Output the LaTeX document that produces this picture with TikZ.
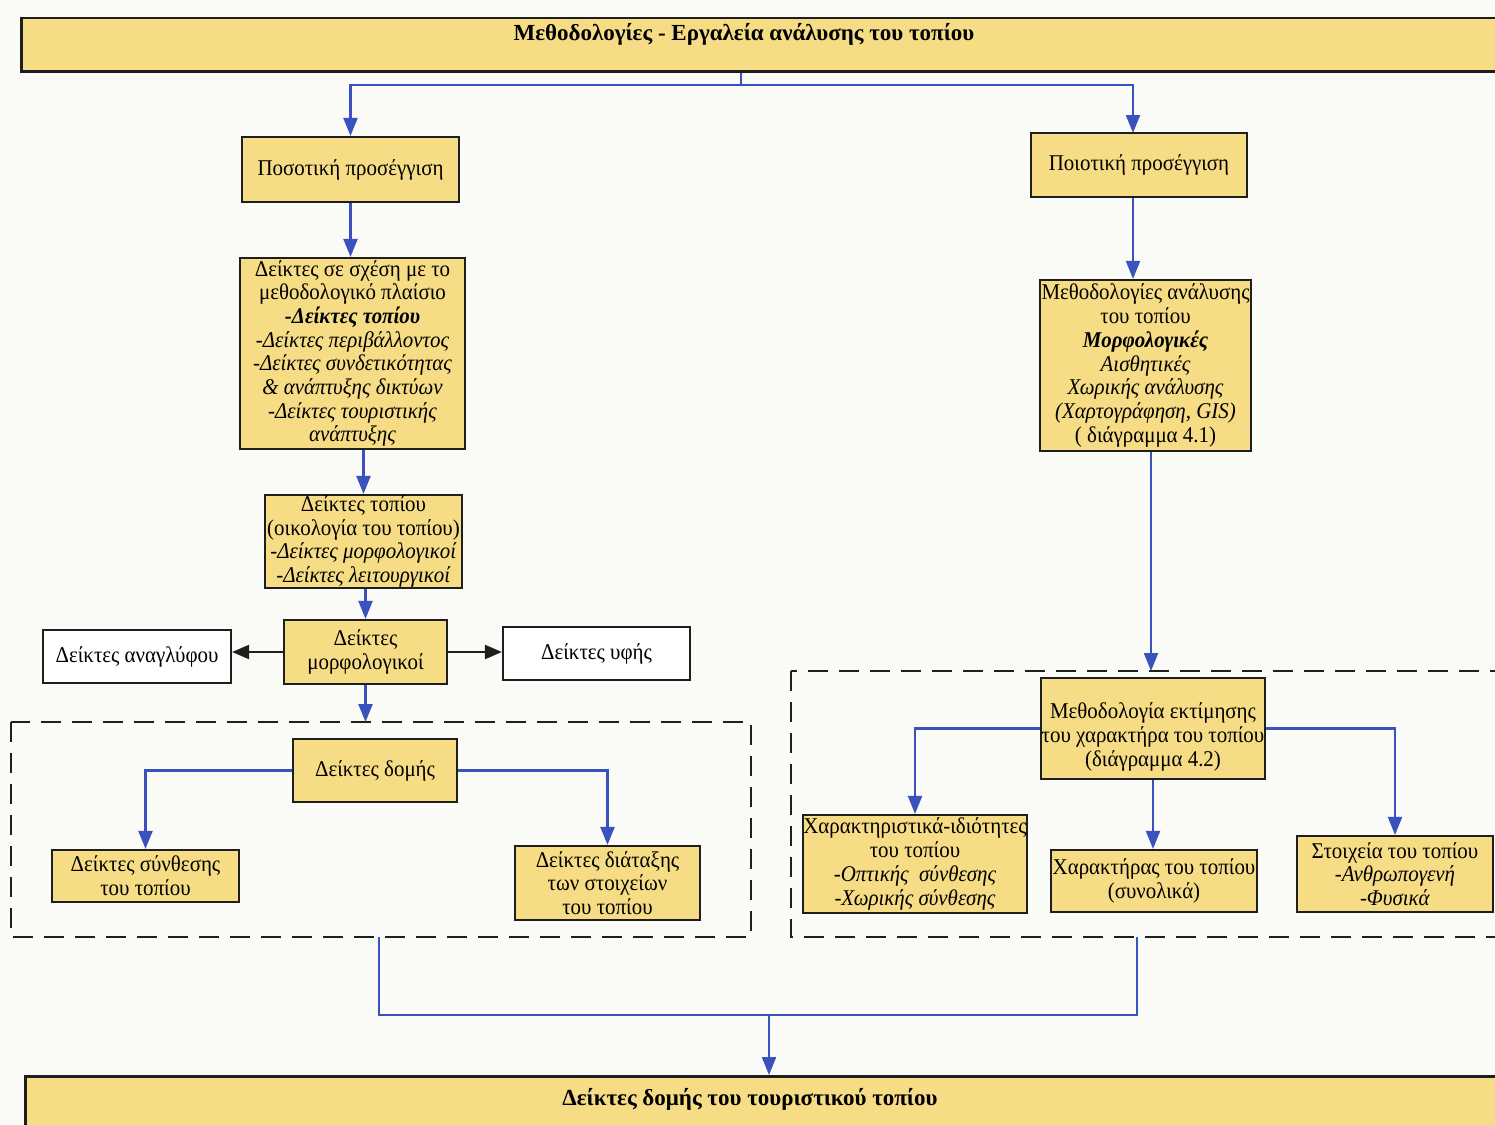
\documentclass[tikz,border=0pt]{standalone}
\usepackage{fontspec}
\setmainfont{Liberation Serif}[FakeStretch=0.93]
\newfontfamily\barfont{Liberation Serif}
\usetikzlibrary{arrows.meta}
\definecolor{boxyellow}{RGB}{246,220,132}
\definecolor{connblue}{RGB}{58,82,190}
\definecolor{bgpaper}{RGB}{250,250,246}
\definecolor{edge}{RGB}{30,30,30}
\tikzset{
  ybox/.style={draw=edge, line width=2.2pt, fill=boxyellow, inner sep=0pt, align=center,
    font=\fontsize{22.5}{23.7}\selectfont},
  wbox/.style={ybox, fill=white},
  bar/.style={draw=edge, line width=2.5pt, fill=boxyellow, inner sep=0pt},
  bartext/.style={font=\barfont\fontsize{23}{25}\selectfont\bfseries, inner sep=0pt},
  conn/.style={draw=connblue, line width=2.2pt},
  arr/.style={conn, -{Triangle[length=18pt,width=14pt]}},
  barr/.style={draw=edge, line width=2.2pt, -{Triangle[length=17pt,width=14pt]}},
  dashframe/.style={draw=edge, line width=2.5pt, dash pattern=on 20pt off 11pt},
}
\begin{document}
\begin{tikzpicture}[x=1pt,y=-1pt]
\useasboundingbox (0,0) rectangle (1495,1124);
\fill[bgpaper] (0,0) rectangle (1495,1124);

% title bar
\node[bar, anchor=north west, minimum width=1500pt, minimum height=53pt] (topbar) at (20,17) {};
\node[bartext] (toptext) at (744,34) {Μεθοδολογίες - Εργαλεία ανάλυσης του τοπίου};

% dashed frames
\coordinate (dL1) at (11,722);
\coordinate (dL2) at (751,937);
\coordinate (dR1) at (791,671);
\coordinate (dR2) at (1520,937);
\draw[dashframe] (dL1) rectangle (dL2);
\draw[dashframe] (dR1) rectangle (dR2);

% left branch
\node[ybox, minimum width=217pt, minimum height=65pt] (quant) at (350.5,169.5) {Ποσοτική προσέγγιση};
\node[ybox, minimum width=225pt, minimum height=191pt] (rel) at (352.5,353.5)
  {Δείκτες σε σχέση με το\\μεθοδολογικό πλαίσιο\\\textbf{\textit{-Δείκτες τοπίου}}\\\textit{-Δείκτες περιβάλλοντος}\\\textit{-Δείκτες συνδετικότητας}\\\textit{\& ανάπτυξης δικτύων}\\\textit{-Δείκτες τουριστικής}\\\textit{ανάπτυξης}};
\node[ybox, minimum width=197pt, minimum height=93pt] (land) at (363.5,541.5)
  {Δείκτες τοπίου\\(οικολογία του τοπίου)\\\textit{-Δείκτες μορφολογικοί}\\\textit{-Δείκτες λειτουργικοί}};
\node[ybox, minimum width=163pt, minimum height=64pt] (morph) at (365.5,652) {Δείκτες\\μορφολογικοί};
\node[wbox, minimum width=188pt, minimum height=53pt] (relief) at (137,656.5) {Δείκτες αναγλύφου};
\node[wbox, minimum width=187pt, minimum height=53pt] (texture) at (596.5,653.5) {Δείκτες υφής};
\node[ybox, minimum width=164pt, minimum height=63pt] (struct) at (375,770.5) {Δείκτες δομής};
\node[ybox, minimum width=187pt, minimum height=52pt] (synth) at (145.5,876) {Δείκτες σύνθεσης\\του τοπίου};
\node[ybox, minimum width=185pt, minimum height=74pt] (arrang) at (607.5,883) {Δείκτες διάταξης\\των στοιχείων\\του τοπίου};

% right branch
\node[ybox, minimum width=216pt, minimum height=64pt] (qual) at (1139,165) {Ποιοτική προσέγγιση};
\node[ybox, minimum width=211pt, minimum height=171pt] (methods) at (1145.5,365.5)
  {Μεθοδολογίες ανάλυσης\\του τοπίου\\\textbf{\textit{Μορφολογικές}}\\\textit{Αισθητικές}\\\textit{Χωρικής ανάλυσης}\\\textit{(Χαρτογράφηση, GIS)}\\( διάγραμμα 4.1)};
\node[ybox, minimum width=224pt, minimum height=101pt] (charmeth) at (1153,728.5)
  {\rule{0pt}{33pt}Μεθοδολογία εκτίμησης\\του χαρακτήρα του τοπίου\\(διάγραμμα 4.2)};
\node[ybox, minimum width=224pt, minimum height=98pt] (charact) at (915,864)
  {Χαρακτηριστικά-ιδιότητες\\του τοπίου\\\textit{-Οπτικής\ \ σύνθεσης}\\\textit{-Χωρικής σύνθεσης}};
\node[ybox, minimum width=206pt, minimum height=62pt] (character) at (1154,881) {Χαρακτήρας του τοπίου\\(συνολικά)};
\node[ybox, minimum width=196pt, minimum height=76pt] (elements) at (1395,874)
  {Στοιχεία του τοπίου\\\textit{-Ανθρωπογενή}\\\textit{-Φυσικά}};

% bottom bar
\node[bar, anchor=north west, minimum width=1500pt, minimum height=70pt] (botbar) at (24,1075) {};
\node[bartext] (bottext) at (750,1099) {Δείκτες δομής του τουριστικού τοπίου};

% connectors top
\coordinate (split1) at (741,85);
\coordinate (qualin) at (1133,133);
\draw[conn] (split1 |- topbar.south) -- (split1);
\draw[arr] (split1) -| (quant.north);
\draw[arr] (split1) -| (qualin);

% left chain
\draw[arr] (quant.south) -- (quant.south |- rel.north);
\draw[arr] (land.north |- rel.south) -- (land.north);
\draw[arr] (morph.north |- land.south) -- (morph.north);
\draw[barr] (morph.west) -- (morph.west -| relief.east);
\draw[barr] (morph.east) -- (morph.east -| texture.west);
\draw[arr] (morph.south) -- (morph.south |- dL1);
\draw[arr] (struct.west) -| (synth.north);
\draw[arr] (struct.east) -| (arrang.north);

% right chain
\draw[arr] (qualin |- qual.south) -- (qualin |- methods.north);
\coordinate (methout) at (1151,451);
\draw[arr] (methout |- methods.south) -- (methout |- dR1);
\draw[arr] (charmeth.west) -| (charact.north);
\draw[arr] (charmeth.south) -- (charmeth.south |- character.north);
\draw[arr] (charmeth.east) -| (elements.north);

% merge to bottom
\coordinate (j1) at (379,1015);
\coordinate (j2) at (1137,1015);
\coordinate (j3) at (769,1015);
\draw[conn] (j1 |- dL2) -- (j1) -- (j2) -- (j2 |- dR2);
\draw[arr] (j3) -- (j3 |- botbar.north);
\end{tikzpicture}
\end{document}
